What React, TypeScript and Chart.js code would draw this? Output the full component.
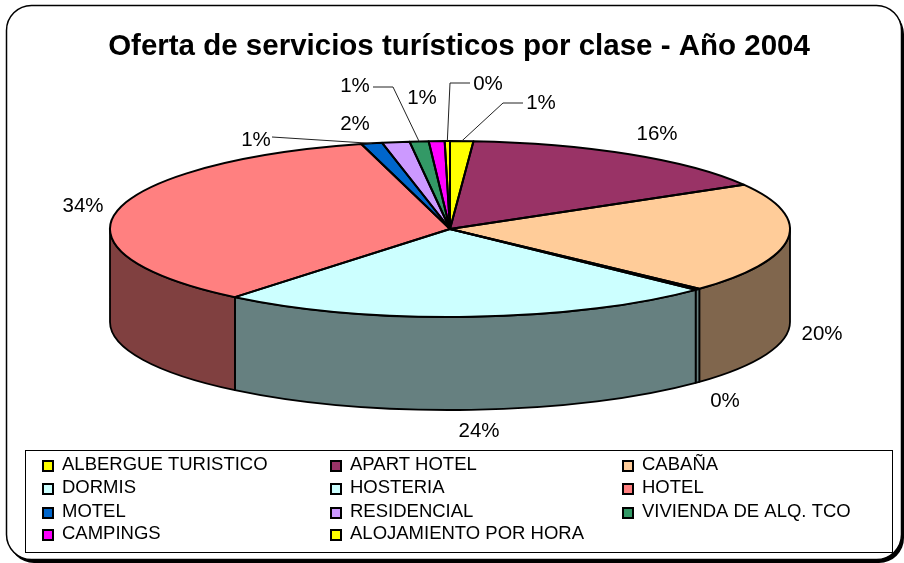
import React, { useEffect, useRef } from "react";
import { Chart, registerables } from "chart.js";

Chart.register(...registerables);

const TITLE = "Oferta de servicios turísticos por clase - Año 2004";
const categories = ["ALBERGUE TURISTICO","APART HOTEL","CABAÑA","DORMIS","HOSTERIA","HOTEL","MOTEL","RESIDENCIAL","VIVIENDA DE ALQ. TCO","CAMPINGS","ALOJAMIENTO POR HORA"];
const shares = [1.1, 15.5, 20.3, 0.25, 23.75, 34.9, 1.0, 1.3, 0.9, 0.75, 0.25];
const percentLabels = ["1%","16%","20%","0%","24%","34%","1%","2%","1%","1%","0%"];
const sliceColors = ["#FFFF00","#993366","#FFCC99","#CCFFFF","#CCFFFF","#FF8080","#0066CC","#CC99FF","#339966","#FF00FF","#FFFF00"];
const wallColors = ["#808000","#4D1A33","#80664D","#668080","#668080","#804040","#003366","#664D80","#1A4D33","#800080","#808000"];

const W = 904, H = 563;
const CX = 450, CY = 229, RX = 340, RY = 88, DEPTH = 93;
const FONT = "'Liberation Sans', Arial, sans-serif";
const LABEL_FONT = `20.5px ${FONT}`;
const LEGEND_FONT = `18.5px ${FONT}`;

// label centre for each slice, and the elbow of its leader line where it has one
const labelPlaces: { x: number; y: number; elbow?: [number, number][] }[] = [
  { x: 541, y: 103, elbow: [[523, 103], [503, 103]] },
  { x: 657, y: 134 },
  { x: 822, y: 334 },
  { x: 725, y: 401 },
  { x: 479, y: 431 },
  { x: 83, y: 206 },
  { x: 256, y: 140, elbow: [[272, 137]] },
  { x: 355, y: 124 },
  { x: 355, y: 86, elbow: [[373, 87], [393, 87]] },
  { x: 422, y: 98 },
  { x: 488, y: 84, elbow: [[470, 83], [450, 83]] },
];
const legendCols = [42, 330, 622];
const legendRows = [465, 488, 512, 534];

function roundRect(ctx: CanvasRenderingContext2D, x: number, y: number, w: number, h: number, r: number) {
  ctx.beginPath();
  ctx.roundRect(x, y, w, h, r);
}

const pie3d = {
  id: "pie3d",
  beforeDraw(chart: any) {
    const ctx = chart.ctx;
    ctx.save();
    ctx.fillStyle = "#000";
    roundRect(ctx, 9, 9, 895, 554, 25);
    ctx.fill();
    ctx.fillStyle = "#fff";
    ctx.strokeStyle = "#000";
    ctx.lineWidth = 1.5;
    roundRect(ctx, 6.5, 5.5, 895, 554, 25);
    ctx.fill();
    ctx.stroke();
    ctx.restore();
  },
  beforeDatasetDraw(chart: any) {
    const ctx = chart.ctx;
    const arcs = chart.getDatasetMeta(0).data;
    ctx.save();
    ctx.lineJoin = "round";
    arcs.forEach((arc: any, i: number) => {
      // the visible front of the rim lies between 0 and PI in canvas angles
      const s = Math.max(arc.startAngle, 0), e = Math.min(arc.endAngle, Math.PI);
      if (e <= s) return;
      ctx.beginPath();
      ctx.ellipse(CX, CY, RX, RY, 0, s, e);
      ctx.lineTo(CX + RX * Math.cos(e), CY + RY * Math.sin(e) + DEPTH);
      ctx.ellipse(CX, CY + DEPTH, RX, RY, 0, e, s, true);
      ctx.closePath();
      ctx.fillStyle = wallColors[i];
      ctx.fill();
      ctx.strokeStyle = "#000";
      ctx.lineWidth = 1.8;
      ctx.stroke();
    });
    ctx.restore();
    const first = arcs[0];
    const R = first.outerRadius;
    ctx.save();
    ctx.translate(CX, CY);
    ctx.scale(RX / R, RY / R);
    ctx.translate(-first.x, -first.y);
  },
  afterDatasetDraw(chart: any) {
    const ctx = chart.ctx;
    ctx.restore();
    const arcs = chart.getDatasetMeta(0).data;
    ctx.save();
    ctx.strokeStyle = "#000";
    ctx.lineWidth = 2;
    ctx.lineJoin = "round";
    arcs.forEach((arc: any) => {
      ctx.beginPath();
      ctx.moveTo(CX, CY);
      ctx.ellipse(CX, CY, RX, RY, 0, arc.startAngle, arc.endAngle);
      ctx.closePath();
      ctx.stroke();
    });
    ctx.restore();
  },
  afterDraw(chart: any) {
    const ctx = chart.ctx;
    const arcs = chart.getDatasetMeta(0).data;
    ctx.save();
    // percentage labels and their leader lines
    ctx.font = LABEL_FONT;
    ctx.textAlign = "center";
    ctx.textBaseline = "middle";
    percentLabels.forEach((text, i) => {
      const place = labelPlaces[i];
      ctx.fillStyle = "#000";
      ctx.fillText(text, place.x, place.y);
      if (place.elbow) {
        const mid = (arcs[i].startAngle + arcs[i].endAngle) / 2;
        ctx.beginPath();
        place.elbow.forEach(([x, y], k) => (k ? ctx.lineTo(x, y) : ctx.moveTo(x, y)));
        ctx.lineTo(CX + RX * Math.cos(mid), CY + RY * Math.sin(mid));
        ctx.strokeStyle = "#222";
        ctx.lineWidth = 1;
        ctx.stroke();
      }
    });
    // legend box
    ctx.fillStyle = "#fff";
    ctx.strokeStyle = "#000";
    ctx.lineWidth = 1;
    ctx.fillRect(25.5, 450.5, 867, 102);
    ctx.strokeRect(25.5, 450.5, 867, 102);
    ctx.font = LEGEND_FONT;
    ctx.textAlign = "left";
    chart.data.labels.forEach((label: string, i: number) => {
      const x = legendCols[i % 3];
      const y = legendRows[Math.floor(i / 3)];
      ctx.fillStyle = chart.data.datasets[0].backgroundColor[i];
      ctx.lineWidth = 2;
      ctx.fillRect(x + 1, y - 4, 10, 10);
      ctx.strokeRect(x + 1, y - 4, 10, 10);
      ctx.fillStyle = "#000";
      ctx.fillText(label, x + 20, y);
    });
    ctx.restore();
  },
};

export default function App() {
  const ref = useRef<HTMLCanvasElement>(null);
  useEffect(() => {
    const chart = new Chart(ref.current!, {
      type: "pie",
      data: {
        labels: categories,
        datasets: [{ data: shares, backgroundColor: sliceColors, borderWidth: 0, clip: false } as any],
      },
      options: {
        animation: false,
        responsive: false,
        layout: { padding: { left: 14, right: 0, top: 0, bottom: 0 } },
        plugins: {
          legend: { display: false },
          tooltip: { enabled: false },
          title: {
            display: true,
            text: TITLE,
            color: "#000",
            font: { family: FONT, size: 29.5, weight: "bold" },
            padding: { top: 29, bottom: 10 },
          },
        },
      },
      plugins: [pie3d],
    } as any);
    return () => chart.destroy();
  }, []);
  return (
    <div style={{ position: "fixed", left: 0, top: 0, width: W, height: H }}>
      <canvas ref={ref} width={W} height={H} style={{ display: "block" }} />
    </div>
  );
}
